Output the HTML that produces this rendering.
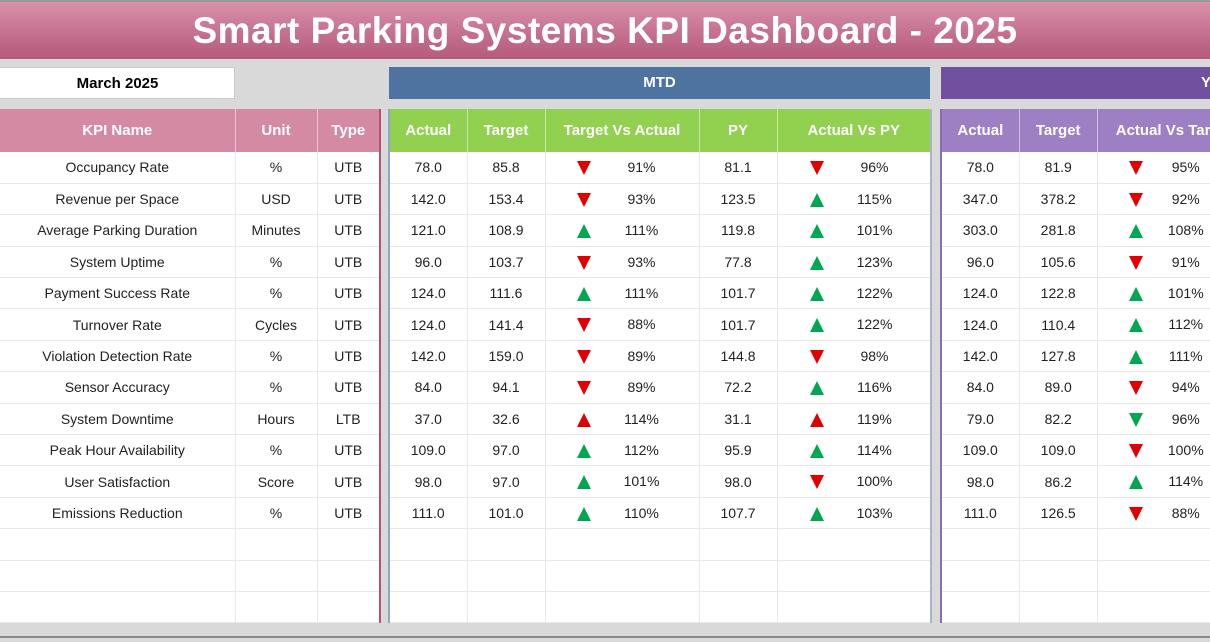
<!DOCTYPE html>
<html><head><meta charset="utf-8">
<style>
*{margin:0;padding:0;box-sizing:border-box}
body{width:1210px;height:642px;background:#d9d9d9;position:relative;overflow:hidden;font-family:"Liberation Sans",sans-serif}
.title{position:absolute;left:0;top:0;width:1210px;height:59px;background:linear-gradient(#d892aa,#c36d8c 60%,#b65a7c);border-top:2px solid #999;color:#fff;font-weight:bold;font-size:37px;text-align:center;line-height:58px;letter-spacing:0.5px}
.box{position:absolute;top:67px;height:32px;text-align:center;line-height:32px;font-weight:bold;font-size:15px}
table{position:absolute;top:109px;border-collapse:collapse;table-layout:fixed;background:#fff}
th{height:43px;color:#fff;font-size:15px;font-weight:bold;border-right:1px solid rgba(255,255,255,0.5)}
td{height:31.4px;font-size:14px;text-align:center;color:#222;border-bottom:1px solid #e8e8e8;border-right:1px solid #e8e8e8;position:relative}
.l th{background:#d48aa3}
.m th{background:#92d050}
.y th{background:#9d7fc4}
.a{position:absolute;left:0;width:100%;top:0;height:31px}
.up,.dn,.upr,.dng{position:absolute;top:9px;width:0;height:0;border-left:7px solid transparent;border-right:7px solid transparent}
.up{border-bottom:14px solid #00a650}
.upr{border-bottom:14px solid #e00000}
.dn{border-top:14px solid #e00000}
.dng{border-top:14px solid #00a650}
.p{position:absolute;top:0;line-height:31px;width:50px;text-align:center}
</style></head><body>
<div class="title">Smart Parking Systems KPI Dashboard - 2025</div>
<div class="box" style="left:-40px;width:275px;background:#fff;border:1px solid #c9c9c9;padding-left:40px">March 2025</div>
<div class="box" style="left:389px;width:541px;background:#4e73a0;color:#fff">MTD</div>
<div class="box" style="left:941px;width:550px;background:#7150a0;color:#fff">YTD</div>

<table class="l" style="left:0;width:381px;border-right:2px solid #b5516f">
<colgroup><col style="width:235px"><col style="width:82px"><col style="width:63px"></colgroup>
<tr><th>KPI Name</th><th>Unit</th><th>Type</th></tr>
<tr><td>Occupancy Rate</td><td>%</td><td>UTB</td></tr>
<tr><td>Revenue per Space</td><td>USD</td><td>UTB</td></tr>
<tr><td>Average Parking Duration</td><td>Minutes</td><td>UTB</td></tr>
<tr><td>System Uptime</td><td>%</td><td>UTB</td></tr>
<tr><td>Payment Success Rate</td><td>%</td><td>UTB</td></tr>
<tr><td>Turnover Rate</td><td>Cycles</td><td>UTB</td></tr>
<tr><td>Violation Detection Rate</td><td>%</td><td>UTB</td></tr>
<tr><td>Sensor Accuracy</td><td>%</td><td>UTB</td></tr>
<tr><td>System Downtime</td><td>Hours</td><td>LTB</td></tr>
<tr><td>Peak Hour Availability</td><td>%</td><td>UTB</td></tr>
<tr><td>User Satisfaction</td><td>Score</td><td>UTB</td></tr>
<tr><td>Emissions Reduction</td><td>%</td><td>UTB</td></tr>
<tr><td></td><td></td><td></td></tr>
<tr><td></td><td></td><td></td></tr>
<tr><td></td><td></td><td></td></tr>
</table>

<table class="m" style="left:388px;width:543px;border-left:2px solid #8fa6c8;border-right:2px solid #a9b4c4">
<colgroup><col style="width:78px"><col style="width:78px"><col style="width:154px"><col style="width:78px"><col style="width:154px"></colgroup>
<tr><th>Actual</th><th>Target</th><th>Target Vs Actual</th><th>PY</th><th>Actual Vs PY</th></tr>
<tr><td>78.0</td><td>85.8</td><td><div class="a"><i class="dn" style="left:31px"></i><span class="p" style="left:71px">91%</span></div></td><td>81.1</td><td><div class="a"><i class="dn" style="left:32px"></i><span class="p" style="left:72px">96%</span></div></td></tr>
<tr><td>142.0</td><td>153.4</td><td><div class="a"><i class="dn" style="left:31px"></i><span class="p" style="left:71px">93%</span></div></td><td>123.5</td><td><div class="a"><i class="up" style="left:32px"></i><span class="p" style="left:72px">115%</span></div></td></tr>
<tr><td>121.0</td><td>108.9</td><td><div class="a"><i class="up" style="left:31px"></i><span class="p" style="left:71px">111%</span></div></td><td>119.8</td><td><div class="a"><i class="up" style="left:32px"></i><span class="p" style="left:72px">101%</span></div></td></tr>
<tr><td>96.0</td><td>103.7</td><td><div class="a"><i class="dn" style="left:31px"></i><span class="p" style="left:71px">93%</span></div></td><td>77.8</td><td><div class="a"><i class="up" style="left:32px"></i><span class="p" style="left:72px">123%</span></div></td></tr>
<tr><td>124.0</td><td>111.6</td><td><div class="a"><i class="up" style="left:31px"></i><span class="p" style="left:71px">111%</span></div></td><td>101.7</td><td><div class="a"><i class="up" style="left:32px"></i><span class="p" style="left:72px">122%</span></div></td></tr>
<tr><td>124.0</td><td>141.4</td><td><div class="a"><i class="dn" style="left:31px"></i><span class="p" style="left:71px">88%</span></div></td><td>101.7</td><td><div class="a"><i class="up" style="left:32px"></i><span class="p" style="left:72px">122%</span></div></td></tr>
<tr><td>142.0</td><td>159.0</td><td><div class="a"><i class="dn" style="left:31px"></i><span class="p" style="left:71px">89%</span></div></td><td>144.8</td><td><div class="a"><i class="dn" style="left:32px"></i><span class="p" style="left:72px">98%</span></div></td></tr>
<tr><td>84.0</td><td>94.1</td><td><div class="a"><i class="dn" style="left:31px"></i><span class="p" style="left:71px">89%</span></div></td><td>72.2</td><td><div class="a"><i class="up" style="left:32px"></i><span class="p" style="left:72px">116%</span></div></td></tr>
<tr><td>37.0</td><td>32.6</td><td><div class="a"><i class="upr" style="left:31px"></i><span class="p" style="left:71px">114%</span></div></td><td>31.1</td><td><div class="a"><i class="upr" style="left:32px"></i><span class="p" style="left:72px">119%</span></div></td></tr>
<tr><td>109.0</td><td>97.0</td><td><div class="a"><i class="up" style="left:31px"></i><span class="p" style="left:71px">112%</span></div></td><td>95.9</td><td><div class="a"><i class="up" style="left:32px"></i><span class="p" style="left:72px">114%</span></div></td></tr>
<tr><td>98.0</td><td>97.0</td><td><div class="a"><i class="up" style="left:31px"></i><span class="p" style="left:71px">101%</span></div></td><td>98.0</td><td><div class="a"><i class="dn" style="left:32px"></i><span class="p" style="left:72px">100%</span></div></td></tr>
<tr><td>111.0</td><td>101.0</td><td><div class="a"><i class="up" style="left:31px"></i><span class="p" style="left:71px">110%</span></div></td><td>107.7</td><td><div class="a"><i class="up" style="left:32px"></i><span class="p" style="left:72px">103%</span></div></td></tr>
<tr><td></td><td></td><td></td><td></td><td></td></tr>
<tr><td></td><td></td><td></td><td></td><td></td></tr>
<tr><td></td><td></td><td></td><td></td><td></td></tr>
</table>

<table class="y" style="left:940px;width:312px;border-left:2px solid #8a6bb8">
<colgroup><col style="width:78px"><col style="width:78px"><col style="width:154px"></colgroup>
<tr><th>Actual</th><th>Target</th><th>Actual Vs Target</th></tr>
<tr><td>78.0</td><td>81.9</td><td><div class="a"><i class="dn" style="left:31px"></i><span class="p" style="left:63px">95%</span></div></td></tr>
<tr><td>347.0</td><td>378.2</td><td><div class="a"><i class="dn" style="left:31px"></i><span class="p" style="left:63px">92%</span></div></td></tr>
<tr><td>303.0</td><td>281.8</td><td><div class="a"><i class="up" style="left:31px"></i><span class="p" style="left:63px">108%</span></div></td></tr>
<tr><td>96.0</td><td>105.6</td><td><div class="a"><i class="dn" style="left:31px"></i><span class="p" style="left:63px">91%</span></div></td></tr>
<tr><td>124.0</td><td>122.8</td><td><div class="a"><i class="up" style="left:31px"></i><span class="p" style="left:63px">101%</span></div></td></tr>
<tr><td>124.0</td><td>110.4</td><td><div class="a"><i class="up" style="left:31px"></i><span class="p" style="left:63px">112%</span></div></td></tr>
<tr><td>142.0</td><td>127.8</td><td><div class="a"><i class="up" style="left:31px"></i><span class="p" style="left:63px">111%</span></div></td></tr>
<tr><td>84.0</td><td>89.0</td><td><div class="a"><i class="dn" style="left:31px"></i><span class="p" style="left:63px">94%</span></div></td></tr>
<tr><td>79.0</td><td>82.2</td><td><div class="a"><i class="dng" style="left:31px"></i><span class="p" style="left:63px">96%</span></div></td></tr>
<tr><td>109.0</td><td>109.0</td><td><div class="a"><i class="dn" style="left:31px"></i><span class="p" style="left:63px">100%</span></div></td></tr>
<tr><td>98.0</td><td>86.2</td><td><div class="a"><i class="up" style="left:31px"></i><span class="p" style="left:63px">114%</span></div></td></tr>
<tr><td>111.0</td><td>126.5</td><td><div class="a"><i class="dn" style="left:31px"></i><span class="p" style="left:63px">88%</span></div></td></tr>
<tr><td></td><td></td><td></td></tr>
<tr><td></td><td></td><td></td></tr>
<tr><td></td><td></td><td></td></tr>
</table>
<div style="position:absolute;left:0;top:636px;width:1210px;height:2px;background:#8a8a8a"></div>
</body></html>
